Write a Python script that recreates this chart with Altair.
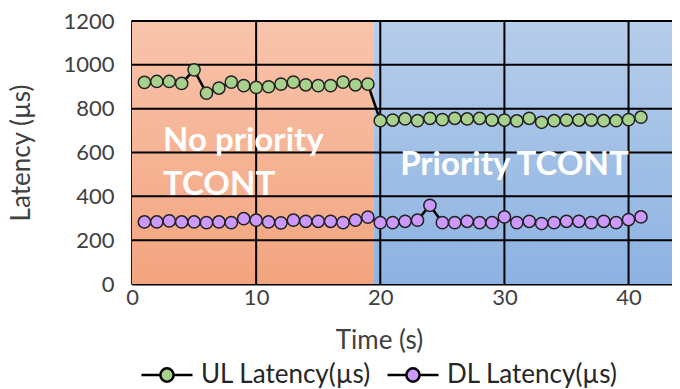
import altair as alt
import pandas as pd

# ---- data ----
time_s = list(range(1, 42))
ul_latency = [920, 924, 924, 915, 977, 871, 894, 921, 905, 897,
              900, 912, 921, 909, 905, 905, 921, 909, 912, 745,
              748, 753, 745, 756, 750, 756, 753, 756, 748, 748,
              744, 756, 738, 745, 748, 748, 748, 745, 745, 750, 761]
dl_latency = [283, 283, 288, 283, 283, 280, 283, 280, 298, 291,
              283, 279, 291, 286, 286, 286, 280, 291, 305, 280,
              280, 286, 291, 359, 280, 280, 286, 280, 280, 306,
              280, 286, 276, 280, 286, 286, 280, 286, 280, 294, 306]
series_names = ["UL Latency(µs)", "DL Latency(µs)"]
series_colors = ["#A9D18E", "#CC99FF"]

region_start = [0, 19.5]
region_end = [19.5, 43.5]
region_names = ["No priority", "Priority"]

x_ticks = [0, 10, 20, 30, 40]
y_ticks = [0, 200, 400, 600, 800, 1000, 1200]

ann_text = ["No priority", "TCONT", "Priority TCONT"]
ann_x = [2.5, 2.5, 21.6]
ann_y = [607, 406, 497]

X_DOMAIN = [0, 43.5]
Y_DOMAIN = [0, 1200]

# ---- tables ----
rows = []
for t, u, d in zip(time_s, ul_latency, dl_latency):
    rows.append({"t": t, "v": u, "series": series_names[0]})
    rows.append({"t": t, "v": d, "series": series_names[1]})
df = pd.DataFrame(rows)

xs = alt.Scale(domain=X_DOMAIN, nice=False, zero=False)
ys = alt.Scale(domain=Y_DOMAIN, nice=False)

x_axis = alt.Axis(values=x_ticks, title="Time (s)", format="d", labelFlush=False,
                  titleX=247, titleY=64, titleBaseline="alphabetic", labelPadding=3)
y_axis = alt.Axis(values=y_ticks, title="Latency (µs)", format="d", labelFlush=False,
                  titleX=-98, labelPadding=18)

orange_grad = alt.Gradient(gradient="linear", x1=0, x2=0, y1=0, y2=1,
                           stops=[alt.GradientStop(color="#F8C4AC", offset=0),
                                  alt.GradientStop(color="#F3A47F", offset=1)])
blue_grad = alt.Gradient(gradient="linear", x1=0, x2=0, y1=0, y2=1,
                         stops=[alt.GradientStop(color="#B6CDEA", offset=0),
                                alt.GradientStop(color="#8DB3E2", offset=1)])

reg_df = pd.DataFrame({"x0": region_start, "x1": region_end, "name": region_names})

bg_orange = alt.Chart(reg_df.iloc[[0]]).mark_rect(fill=orange_grad).encode(
    x=alt.X("x0:Q", scale=xs, axis=x_axis),
    x2="x1:Q",
    y=alt.value(0), y2=alt.value(263),
)
bg_blue = alt.Chart(reg_df.iloc[[1]]).mark_rect(fill=blue_grad).encode(
    x=alt.X("x0:Q", scale=xs, axis=x_axis), x2="x1:Q",
    y=alt.value(0), y2=alt.value(263),
)

vgrid = alt.Chart(pd.DataFrame({"g": x_ticks[1:]})).mark_rule(color="black", strokeWidth=2).encode(
    x=alt.X("g:Q", scale=xs, axis=x_axis), y=alt.value(0), y2=alt.value(263))
hgrid = alt.Chart(pd.DataFrame({"g": y_ticks[1:]})).mark_rule(color="black", strokeWidth=2).encode(
    y=alt.Y("g:Q", scale=ys, axis=y_axis), x=alt.value(0), x2=alt.value(540))

ann = alt.Chart(pd.DataFrame({"text": ann_text, "x": ann_x, "y": ann_y})).mark_text(
    align="left", baseline="alphabetic", color="white", font="Lato", fontWeight="bold",
    fontSize=33).encode(
    x=alt.X("x:Q", scale=xs, axis=x_axis), y=alt.Y("y:Q", scale=ys, axis=y_axis),
    text="text:N")

lines = alt.Chart(df).mark_line(color="black", strokeWidth=2.5).encode(
    x=alt.X("t:Q", scale=xs, axis=x_axis),
    y=alt.Y("v:Q", scale=ys, axis=y_axis),
    detail="series:N",
)

symbol_path = ("M-1,0L-0.26,0M0.26,0L1,0M0.26,0"
               "A0.26,0.26,0,1,1,-0.26,0A0.26,0.26,0,1,1,0.26,0Z")

points = alt.Chart(df).mark_point(filled=True, size=150, stroke="#222222",
                                  strokeWidth=1.5, opacity=1).encode(
    x=alt.X("t:Q", scale=xs, axis=x_axis),
    y=alt.Y("v:Q", scale=ys, axis=y_axis),
    fill=alt.Fill("series:N",
                  scale=alt.Scale(domain=series_names, range=series_colors),
                  legend=alt.Legend(title=None, orient="none", direction="horizontal",
                                    legendX=8, legendY=327, padding=0,
                                    symbolType=symbol_path, symbolSize=2601,
                                    symbolStrokeColor="black", symbolStrokeWidth=2.5,
                                    symbolOpacity=1, labelOffset=7,
                                    columnPadding=10, labelLimit=400)),
)

chart = alt.layer(bg_orange, bg_blue, vgrid, hgrid, ann, lines, points).properties(
    width=540, height=263,
    background="white",
    autosize=alt.AutoSizeParams(type="none"),
    padding={"left": 124, "top": 13, "right": 0, "bottom": 105},
).configure_view(
    stroke="black", strokeWidth=1.5
).configure_axis(
    grid=False, ticks=False, domainColor="black", domainWidth=2,
    labelFont="Lato", labelFontSize=22, labelColor="#404040",
    titleFont="Lato", titleFontSize=26, titleFontWeight="normal", titleColor="#404040",
).configure_legend(
    labelFont="Lato", labelFontSize=26, labelColor="#262626"
)

chart.save("out.html", embed_options={"renderer": "svg", "actions": False})
